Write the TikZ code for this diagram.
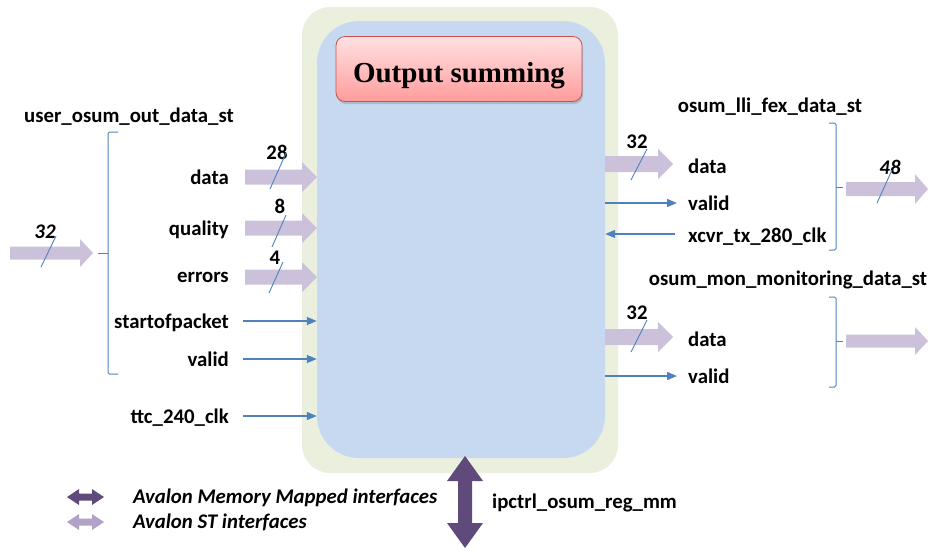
\documentclass[tikz,border=0pt]{standalone}
\usepackage{fontspec}
\setmainfont{Carlito}
\newfontfamily\titlefont{Liberation Serif}
\usetikzlibrary{shadows,arrows.meta}
\definecolor{outerbg}{HTML}{EBF0DE}
\definecolor{innerbg}{HTML}{C6D9F0}
\definecolor{sigblue}{HTML}{4F81BD}
\definecolor{stlight}{HTML}{CCC1DA}
\definecolor{mmdark}{HTML}{604A7B}
\definecolor{legendlight}{HTML}{B3A2C7}
\definecolor{titletop}{HTML}{FFE2E2}
\definecolor{titlebot}{HTML}{FF9C9C}
\definecolor{titleedge}{HTML}{C9504D}

\begin{document}
\begin{tikzpicture}[x=1pt,y=-1pt,
  lbl/.style={font=\fontsize{20.8}{24}\selectfont\bfseries, inner sep=0pt},
  buswidth/.style={font=\fontsize{20.8}{24}\selectfont\bfseries, inner sep=0pt},
  ibuswidth/.style={font=\fontsize{20.8}{24}\selectfont\bfseries\itshape, inner sep=0pt},
  legendtext/.style={font=\fontsize{20.8}{24}\selectfont\bfseries\itshape, inner sep=0pt, anchor=mid west},
  sig/.style={draw=sigblue, line width=1.3pt, -{Triangle[length=10pt,width=8pt]}},
  slash/.style={draw=sigblue, line width=0.9pt},
  brace/.style={draw=sigblue, line width=1pt, rounded corners=1.5pt},
  titlebox/.style={draw=titleedge, line width=0.8pt, rounded corners=9pt,
    top color=titletop, bottom color=titlebot,
    minimum width=246pt, minimum height=65pt, inner sep=0pt,
    text height=26pt, text depth=0pt,
    drop shadow={opacity=0.35, shadow xshift=1pt, shadow yshift=-2.5pt},
    font=\titlefont\fontsize{29}{32}\selectfont\bfseries},
  % single-headed bus arrow pointing along +x: length, body half, head half, head length
  pics/fat/.style n args={4}{code={\fill (0,-#2) -- ({#1-#4},-#2) -- ({#1-#4},-#3) -- (#1,0)
      -- ({#1-#4},#3) -- ({#1-#4},#2) -- (0,#2) -- cycle;}},
  % double-headed bus arrow along +x
  pics/dfat/.style n args={4}{code={\fill (0,0) -- (#4,-#3) -- (#4,-#2) -- ({#1-#4},-#2)
      -- ({#1-#4},-#3) -- (#1,0) -- ({#1-#4},#3) -- ({#1-#4},#2) -- (#4,#2) -- (#4,#3) -- cycle;}},
]
\useasboundingbox (0,0) rectangle (928,550);

% ---- block ----
\node[fill=outerbg, rounded corners=28pt, minimum width=316pt, minimum height=466pt, inner sep=0pt] (frame) at (460,240) {};
\node[fill=innerbg, rounded corners=42pt, minimum width=288pt, minimum height=437pt, inner sep=0pt] (core) at (461,239.5) {};
\node[titlebox] (title) at (459,69) {Output summing};

% ---- input stream ----
\node[lbl] (ingrp) at (129,117) {user\_osum\_out\_data\_st};
\draw[brace] (118,132) -- (108,132) -- (108,374) -- (118,374);
\draw[brace] (108,253) -- (98,253);
\pic[stlight] at (10,253) {fat={83}{6.5}{14}{13}};
\node[ibuswidth] (w32in) at (45,232) {32};
\draw[slash] (41,267) -- (56,236);

\node[lbl, anchor=mid east] (ldata) at (229,182) {data};
\node[lbl, anchor=mid east] (lqual) at (229,233) {quality};
\node[lbl, anchor=mid east] (lerr)  at (229,280) {errors};
\node[lbl, anchor=mid east] (lsop)  at (229,326) {startofpacket};
\node[lbl, anchor=mid east] (lval)  at (229,364) {valid};
\node[lbl, anchor=mid east] (lclk)  at (229,421) {ttc\_240\_clk};

\pic[stlight] at (245,177) {fat={72}{7.5}{15}{15}};
\pic[stlight] at (245,228) {fat={72}{7.5}{15}{15}};
\pic[stlight] at (245,277) {fat={72}{7.5}{15}{15}};
\node[buswidth] (w28) at (277,152) {28};
\draw[slash] (270,189) -- (286,153);
\node[buswidth] (w8) at (280,206) {8};
\draw[slash] (272,247) -- (286,215);
\node[buswidth] (w4) at (275,258) {4};
\draw[slash] (269,293) -- (283,262);

\draw[sig] ([xshift=14pt,yshift=5pt]lsop.mid east) -- ([yshift=5pt]lsop.mid east -| core.west);
\draw[sig] ([xshift=14pt,yshift=5pt]lval.mid east) -- ([yshift=5pt]lval.mid east -| core.west);
\draw[sig] ([xshift=14pt,yshift=5pt]lclk.mid east) -- ([yshift=5pt]lclk.mid east -| core.west);

% ---- output stream to lli fex ----
\node[lbl] (outgrp1) at (770,107) {osum\_lli\_fex\_data\_st};
\node[lbl, anchor=mid west] (rdata1) at (688,171) {data};
\node[lbl, anchor=mid west] (rval1)  at (688,208) {valid};
\node[lbl, anchor=mid west] (rclk)   at (688,240) {xcvr\_tx\_280\_clk};
\pic[stlight] at (605,164) {fat={68}{8}{15}{15}};
\node[buswidth] (w32a) at (637,142) {32};
\draw[slash] (631,180) -- (647,149);
\draw[sig] ([yshift=5pt]rval1.mid west -| core.east) -- ([xshift=-11pt,yshift=5pt]rval1.mid west);
\draw[sig] ([xshift=-13pt,yshift=6pt]rclk.mid west) -- ([yshift=6pt]rclk.mid west -| core.east);
\draw[brace] (829,123) -- (836,123) -- (836,250) -- (829,250);
\draw[brace] (836,187) -- (843,187);
\pic[stlight] at (846,189) {fat={82}{7}{15}{13}};
\node[ibuswidth] (w48) at (890,167) {48};
\draw[slash] (877,203) -- (892,170);

% ---- output stream to monitoring ----
\node[lbl] (outgrp2) at (788,280) {osum\_mon\_monitoring\_data\_st};
\node[lbl, anchor=mid west] (rdata2) at (688,344) {data};
\node[lbl, anchor=mid west] (rval2)  at (688,381) {valid};
\pic[stlight] at (605,337) {fat={68}{8}{15}{15}};
\node[buswidth] (w32b) at (637,313) {32};
\draw[slash] (631,352) -- (647,320);
\draw[sig] ([yshift=5pt]rval2.mid west -| core.east) -- ([xshift=-11pt,yshift=5pt]rval2.mid west);
\draw[brace] (829,297) -- (836,297) -- (836,387) -- (829,387);
\draw[brace] (836,341) -- (843,341);
\pic[stlight] at (846,341) {fat={82}{6.5}{14}{13}};

% ---- register interface ----
\pic[mmdark, rotate=90] at (465,548) {dfat={92}{7}{18}{25}};
\node[lbl, anchor=mid west] (mm) at (492,506) {ipctrl\_osum\_reg\_mm};

% ---- legend ----
\pic[mmdark] at (67,497) {dfat={37}{3.5}{8}{12}};
\pic[legendlight] at (67,522) {dfat={37}{3.5}{8}{12}};
\node[legendtext] (legmm) at (133,501) {Avalon Memory Mapped interfaces};
\node[legendtext] (legst) at (133,526) {Avalon ST interfaces};
\end{tikzpicture}
\end{document}
